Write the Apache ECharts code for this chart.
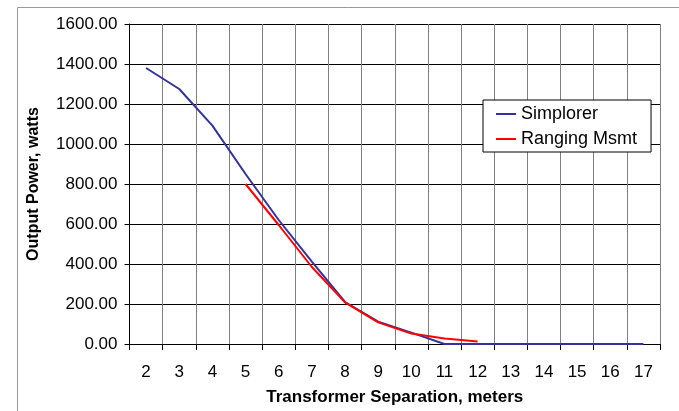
<!DOCTYPE html>
<html>
<head>
<meta charset="utf-8">
<script src="https://cdn.jsdelivr.net/npm/echarts@6/dist/echarts.min.js"></script>
<style>
html,body{margin:0;padding:0;background:#fff;}
#chart{width:679px;height:411px;}
</style>
</head>
<body>
<div id="chart"></div>
<script>
var categories = ['2','3','4','5','6','7','8','9','10','11','12','13','14','15','16','17'];
var simplorer = [1380, 1275, 1092, 850, 620, 412, 210, 112, 57, 0, 0, 0, 0, 0, 0, 0];
var rangingMsmt = [null, null, null, 800, 595, 385, 208, 108, 52, 27, 12, null, null, null, null, null];
var yTicks = [0, 200, 400, 600, 800, 1000, 1200, 1400, 1600];

var font = '"Liberation Sans", Arial, sans-serif';
var lineIcon = 'path://M0,0 L20,0 L20,2 L0,2 Z';
var chart = echarts.init(document.getElementById('chart'), null, {renderer: 'canvas'});
chart.setOption({
  animation: false,
  backgroundColor: '#fff',
  graphic: [{
    type: 'rect', left: 15, top: 5, z: -10, silent: true,
    shape: {width: 700, height: 500},
    style: {fill: 'none', stroke: '#999', lineWidth: 1}
  }],
  grid: {left: 129.5, right: 19, top: 24, bottom: 66, containLabel: false},
  legend: {
    orient: 'vertical',
    left: 483, top: 100,
    backgroundColor: '#fff',
    borderColor: '#000', borderWidth: 1,
    padding: [5, 14, 4, 13],
    itemWidth: 20, itemHeight: 14, itemGap: 7,
    textStyle: {fontFamily: font, fontSize: 18, color: '#000'},
    data: [{name: 'Simplorer', icon: lineIcon}, {name: 'Ranging Msmt', icon: lineIcon}]
  },
  xAxis: {
    type: 'category',
    data: categories,
    boundaryGap: true,
    name: 'Transformer Separation, meters',
    nameLocation: 'middle',
    nameGap: 45,
    nameTextStyle: {fontFamily: font, fontSize: 17, fontWeight: 'bold', color: '#000'},
    axisLine: {lineStyle: {color: '#000', width: 1}},
    axisTick: {show: true, length: 6, inside: false, lineStyle: {color: '#000'}},
    axisLabel: {fontFamily: font, fontSize: 17, color: '#000', margin: 20},
    splitLine: {show: true, lineStyle: {color: '#808080', width: 1}}
  },
  yAxis: {
    type: 'value',
    min: yTicks[0], max: yTicks[yTicks.length - 1], interval: 200,
    name: 'Output Power, watts',
    nameLocation: 'middle',
    nameGap: 88,
    nameTextStyle: {fontFamily: font, fontSize: 16, fontWeight: 'bold', color: '#000'},
    axisLine: {show: true, lineStyle: {color: '#000', width: 1}},
    axisTick: {show: true, length: 5, lineStyle: {color: '#000'}},
    axisLabel: {fontFamily: font, fontSize: 17, color: '#000', margin: 12,
      formatter: function (v) { return v.toFixed(2); }},
    splitLine: {show: true, lineStyle: {color: '#000', width: 1}}
  },
  series: [{
    name: 'Simplorer', type: 'line', data: simplorer,
    symbol: 'none', lineStyle: {color: '#333399', width: 2}, itemStyle: {color: '#333399'}
  }, {
    name: 'Ranging Msmt', type: 'line', data: rangingMsmt,
    symbol: 'none', lineStyle: {color: '#ff0000', width: 2}, itemStyle: {color: '#ff0000'}
  }]
});
</script>
</body>
</html>
